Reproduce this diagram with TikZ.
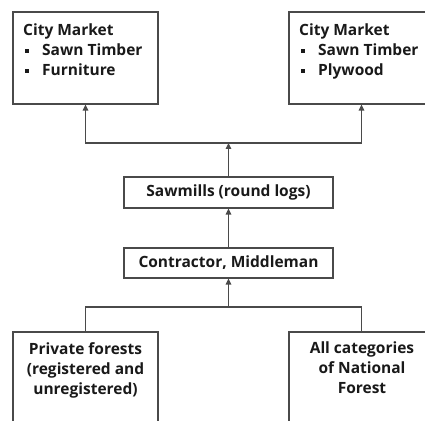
\documentclass[tikz,border=0pt]{standalone}
\usepackage{fontspec}
\setmainfont{Open Sans}
\usepackage{tikz}
\usetikzlibrary{arrows.meta,positioning}
\definecolor{linegray}{HTML}{4A4A4A}
\newcommand{\sqbullet}{\makebox[19pt][l]{\hspace{1.5pt}\rule[3pt]{4pt}{4pt}}}
\tikzset{
  box/.style={draw=linegray,line width=1.1pt,rectangle,inner sep=0pt},
  lbl/.style={inner sep=0pt,font=\bfseries\fontsize{15.5}{20}\selectfont,text=black!90},
  flow/.style={draw=linegray,line width=1.1pt,-{Triangle[length=6pt,width=5.5pt]}},
  link/.style={draw=linegray,line width=1.1pt}
}
\begin{document}
\begin{tikzpicture}[x=1pt,y=1pt]
		\clip (0,0) rectangle (425,420);
		% markets
		\node[box,minimum width=145,minimum height=92] (mktL) at (85.5,362) {};
		\node[box,minimum width=145,minimum height=92] (mktR) at (361.5,362) {};
		\node[lbl,anchor=north west,align=left] (mktLt) at (23,396)
			{City Market\\ \sqbullet Sawn Timber\\ \sqbullet Furniture};
		\node[lbl,anchor=north west,align=left] (mktRt) at (299,396)
			{City Market\\ \sqbullet Sawn Timber\\ \sqbullet Plywood};
		% middle chain
		\node[box,lbl,minimum width=209,minimum height=31] (saw) at (228.5,227.5) {Sawmills (round logs)};
		\node[box,lbl,minimum width=209,minimum height=30] (mid) at (228.5,157) {Contractor, Middleman};
		% sources
		\node[box,minimum width=145,minimum height=120] (prv) at (85.5,28) {};
		\node[box,minimum width=145,minimum height=120] (nat) at (361.5,28) {};
		\node[lbl,anchor=north,align=center] (prvt) at (85.5,78)
			{Private forests\\(registered and\\unregistered)};
		\node[lbl,anchor=north,align=center] (natt) at (362,78)
			{All categories\\of National\\Forest};
		% connectors
		\coordinate (jt) at (228.5,277);
		\coordinate (jb) at (228.5,113);
		\draw[flow] (jt) -| (mktL.south);
		\draw[flow] (jt) -| (mktR.south);
		\draw[flow] (saw.north) -- (jt);
		\draw[flow] (mid.north) -- (saw.south);
		\draw[flow] (jb) -- (mid.south);
		\draw[link] (jb) -| (prv.north);
		\draw[link] (jb) -| (nat.north);
\end{tikzpicture}
\end{document}
